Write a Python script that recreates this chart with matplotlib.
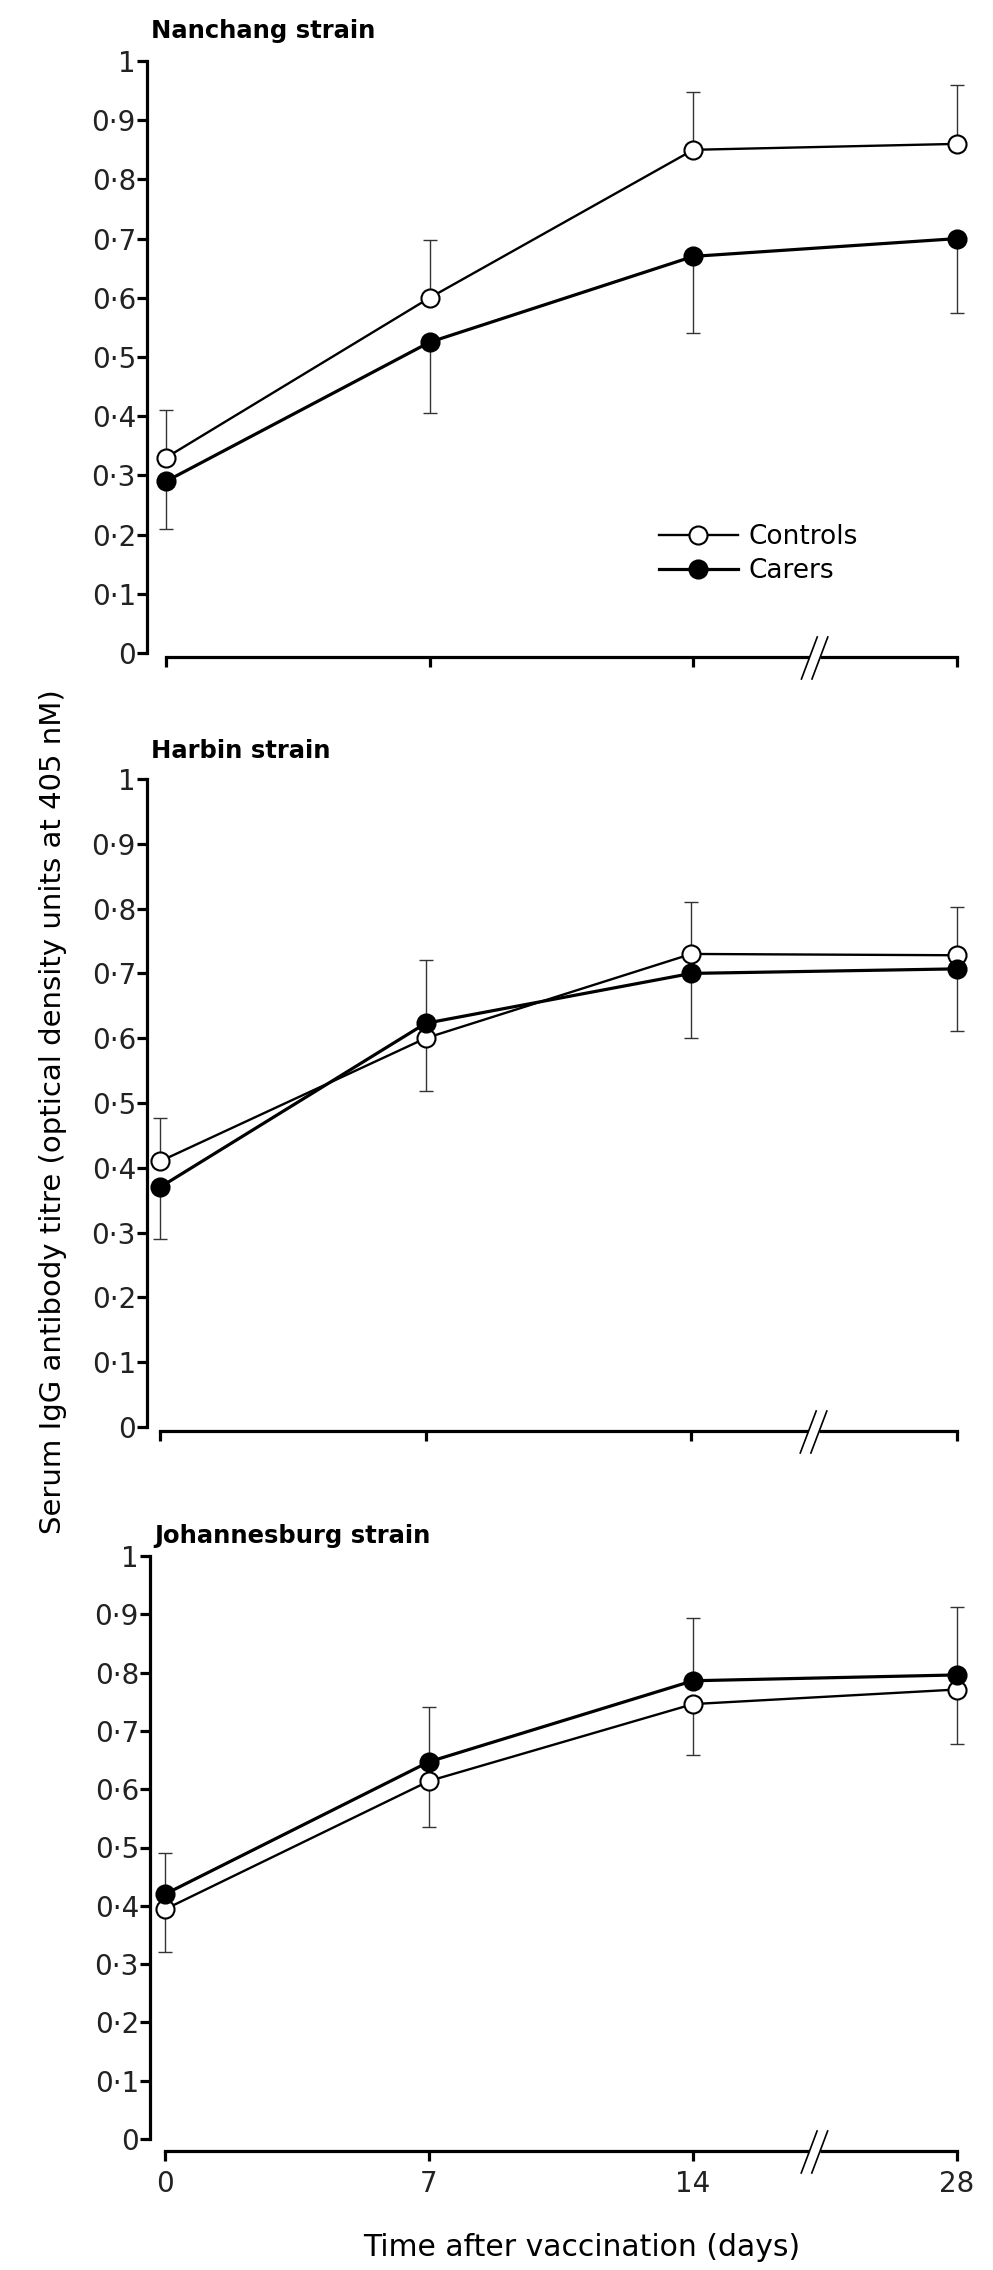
import numpy as np
import matplotlib
matplotlib.use("Agg")
import matplotlib.pyplot as plt
from matplotlib.ticker import FixedLocator, FuncFormatter
from matplotlib.transforms import blended_transform_factory

# data
days = [0, 7, 14, 28]
strains = ["Nanchang strain", "Harbin strain", "Johannesburg strain"]

nanchang_controls = [0.33, 0.60, 0.85, 0.86]
nanchang_controls_err = [0.08, 0.097, 0.097, 0.10]
nanchang_carers = [0.29, 0.525, 0.67, 0.70]
nanchang_carers_err = [0.08, 0.12, 0.13, 0.125]

harbin_controls = [0.41, 0.60, 0.73, 0.728]
harbin_controls_err = [0.067, 0.12, 0.08, 0.075]
harbin_carers = [0.37, 0.623, 0.70, 0.707]
harbin_carers_err = [0.08, 0.104, 0.10, 0.096]

joburg_controls = [0.394, 0.614, 0.746, 0.771]
joburg_controls_err = [0.074, 0.078, 0.087, 0.094]
joburg_carers = [0.42, 0.647, 0.786, 0.796]
joburg_carers_err = [0.071, 0.094, 0.107, 0.117]

controls = [nanchang_controls, harbin_controls, joburg_controls]
controls_err = [nanchang_controls_err, harbin_controls_err, joburg_controls_err]
carers = [nanchang_carers, harbin_carers, joburg_carers]
carers_err = [nanchang_carers_err, harbin_carers_err, joburg_carers_err]
controls_up = [True, True, False]   # which group has the upward error bar

yticks = [0, 0.1, 0.2, 0.3, 0.4, 0.5, 0.6, 0.7, 0.8, 0.9, 1]

# layout, in pixels of the 993x2270 canvas
W, H = 993, 2270
geo = [  # top, bottom, left, x of day 0, spine offset, title gap
    (61, 653, 147, 166, 4, 23),
    (779, 1427, 147, 160, 4, 21),
    (1556, 2139, 150, 165, 12, 13),
]
x_last = 957
right = 972

plt.rcParams['font.family'] = ['DejaVu Sans']
fig = plt.figure(figsize=(W / 100, H / 100), dpi=100)

def fmt(v, pos):
    if v == 0 or v == 1:
        return "%d" % v
    return ("%.1f" % v).replace(".", "\u00b7")

pos = np.arange(len(days))

for i in range(3):
    top, bot, left, x0, off, tgap = geo[i]
    ax = fig.add_axes([left / W, 1 - bot / H, (right - left) / W, (bot - top) / H])
    unit = (x_last - x0) / 3
    ax.set_xlim(-(x0 - left) / unit, 3 + (right - x_last) / unit)
    ax.set_ylim(0, 1)

    up_vals, up_err, dn_vals, dn_err = (controls[i], controls_err[i], carers[i], carers_err[i]) \
        if controls_up[i] else (carers[i], carers_err[i], controls[i], controls_err[i])
    z = np.zeros(4)
    ax.errorbar(pos, up_vals, yerr=[z, up_err], fmt='none', ecolor='#333333',
                elinewidth=1, capsize=5, capthick=1, zorder=2, clip_on=False)
    ax.errorbar(pos, dn_vals, yerr=[dn_err, z], fmt='none', ecolor='#333333',
                elinewidth=1, capsize=5, capthick=1, zorder=2, clip_on=False)

    ax.plot(pos, controls[i], '-o', color='black', lw=1.7, ms=13, mfc='white',
            mec='black', mew=1.5, label='Controls', zorder=3, clip_on=False)
    ax.plot(pos, carers[i], '-o', color='black', lw=2.3, ms=13, mfc='black',
            mec='black', mew=1.5, label='Carers', zorder=4, clip_on=False)

    for s in ['top', 'right']:
        ax.spines[s].set_visible(False)
    for s in ['left', 'bottom']:
        ax.spines[s].set_linewidth(2.3)
    ax.spines['bottom'].set_position(('outward', off * 0.72))
    ax.spines['bottom'].set_bounds(0, 3)

    ax.yaxis.set_major_locator(FixedLocator(yticks))
    ax.yaxis.set_major_formatter(FuncFormatter(fmt))
    ax.set_xticks(pos)
    if i == 2:
        ax.set_xticklabels([str(d) for d in days])
        ax.set_xlabel("Time after vaccination (days)", fontsize=21.5, va='center')
        ax.xaxis.set_label_coords(0.525, -(2247 - bot) / (bot - top))
    else:
        ax.set_xticklabels([])
    ax.tick_params(axis='both', direction='out', length=7, width=2.3,
                   labelsize=20, pad=1, colors='black', labelcolor='#222222')
    ax.tick_params(axis='x', pad=7)

    ax.text(0.005, 1 + tgap / (bot - top), strains[i], transform=ax.transAxes,
            fontsize=17.5, fontweight='bold', ha='left', va='baseline')

    # axis break between 14 and 28
    h = bot - top
    yb = -(off + 1) / h
    tr = blended_transform_factory(ax.transData, ax.transAxes)
    xb = 2.46
    ax.plot([xb - 0.022, xb + 0.022], [yb, yb], color='white', lw=5,
            transform=tr, clip_on=False, zorder=5, solid_capstyle='butt')
    for dx in (-0.02, 0.02):
        ax.plot([xb + dx - 0.03, xb + dx + 0.03], [yb - 21 / h, yb + 21 / h],
                color='black', lw=1.2, transform=tr, clip_on=False, zorder=6)

    if i == 0:
        ax.legend(loc='upper left', bbox_to_anchor=(0.62, 0.218), frameon=False,
                  fontsize=19, handlelength=3.0, handletextpad=0.4,
                  borderpad=0, borderaxespad=0, labelspacing=0.3)

fig.text(53 / W, 1 - 1112 / H,
         "Serum IgG antibody titre (optical density units at 405 nM)",
         rotation=90, fontsize=21, ha='center', va='center')

fig.savefig("out.png", dpi=100)
